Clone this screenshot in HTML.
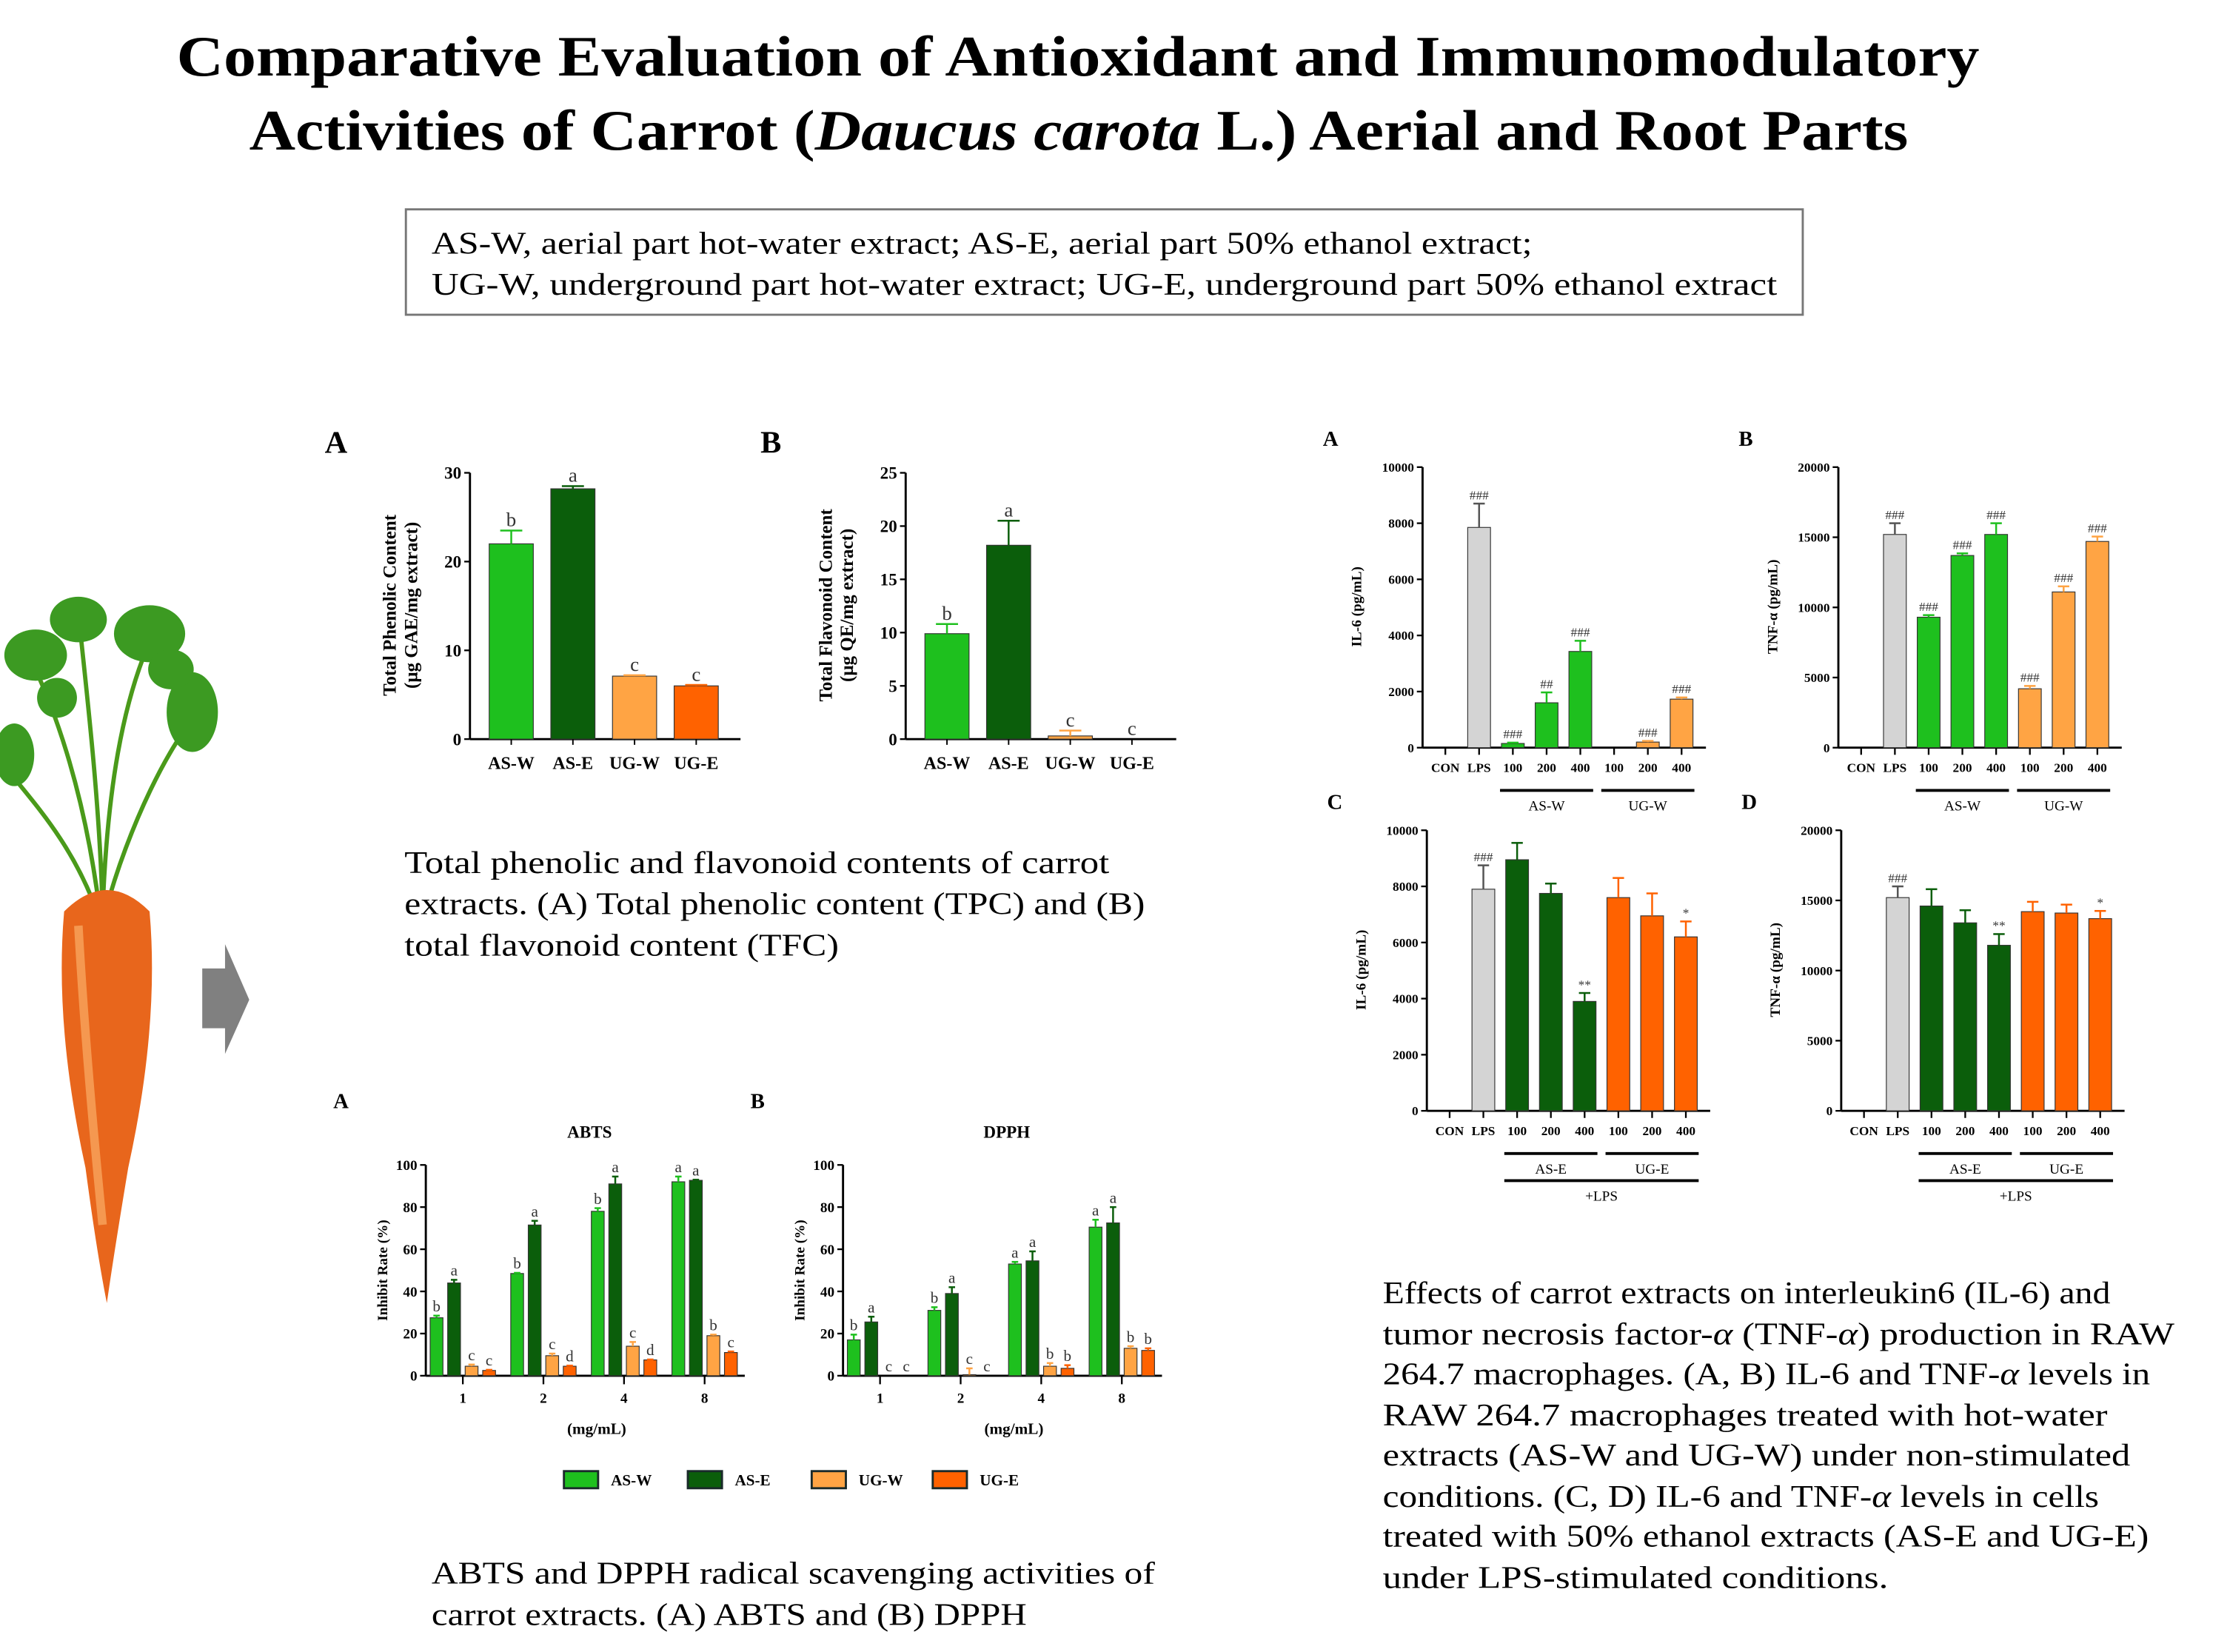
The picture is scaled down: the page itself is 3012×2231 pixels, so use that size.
<!DOCTYPE html>
<html><head><meta charset="utf-8">
<style>
html,body{margin:0;padding:0;background:#fff;}
svg{display:block;}
text{font-family:"Liberation Serif",serif;}
</style></head>
<body>
<svg id="s" width="3012" height="2231" viewBox="0 0 1566 1160" xmlns="http://www.w3.org/2000/svg">
<text x="124" y="53" font-size="40" font-weight="bold" textLength="1266" lengthAdjust="spacingAndGlyphs">Comparative Evaluation of Antioxidant and Immunomodulatory</text>
<text x="175" y="105" font-size="40" font-weight="bold" textLength="1165" lengthAdjust="spacingAndGlyphs">Activities of Carrot (<tspan font-style="italic">Daucus carota</tspan> L.) Aerial and Root Parts</text>
<rect x="285" y="147" width="981" height="74" fill="none" stroke="#777" stroke-width="1.5"/>
<text x="303" y="178" font-size="22" textLength="773" lengthAdjust="spacingAndGlyphs">AS-W, aerial part hot-water extract; AS-E, aerial part 50% ethanol extract;</text>
<text x="303" y="207" font-size="22" textLength="945" lengthAdjust="spacingAndGlyphs">UG-W, underground part hot-water extract; UG-E, underground part 50% ethanol extract</text>

<g>
  <g stroke="#4a9a1a" stroke-width="3" fill="none">
    <path d="M70 640 C60 560 40 500 20 460"/><path d="M72 640 C75 560 85 490 110 440"/>
    <path d="M74 640 C90 580 120 520 140 500"/><path d="M68 640 C50 590 20 560 5 540"/>
    <path d="M72 640 C70 560 60 480 55 430"/>
  </g>
  <g fill="#3c9a22">
    <ellipse cx="25" cy="460" rx="22" ry="18"/><ellipse cx="55" cy="435" rx="20" ry="16"/>
    <ellipse cx="105" cy="445" rx="25" ry="20"/><ellipse cx="135" cy="500" rx="18" ry="28"/>
    <ellipse cx="10" cy="530" rx="14" ry="22"/><ellipse cx="120" cy="470" rx="16" ry="14"/>
    <ellipse cx="40" cy="490" rx="14" ry="14"/>
  </g>
  <path d="M45 640 Q75 610 105 640 Q112 720 90 820 Q80 880 75 915 Q68 880 60 820 Q38 720 45 640 Z" fill="#e8661c"/>
  <path d="M55 650 Q60 740 72 860" stroke="#f59850" stroke-width="6" fill="none"/>
</g>
<polygon points="142,680 158,680 158,663 175,702 158,740 158,722 142,722" fill="#808080"/>

<text x="284" y="613" font-size="22" textLength="495" lengthAdjust="spacingAndGlyphs">Total phenolic and flavonoid contents of carrot</text>
<text x="284" y="642" font-size="22" textLength="520" lengthAdjust="spacingAndGlyphs">extracts. (A) Total phenolic content (TPC) and (B)</text>
<text x="284" y="671" font-size="22" textLength="305" lengthAdjust="spacingAndGlyphs">total flavonoid content (TFC)</text>

<text x="303" y="1112" font-size="22" textLength="508" lengthAdjust="spacingAndGlyphs">ABTS and DPPH radical scavenging activities of</text>
<text x="303" y="1141" font-size="22" textLength="418" lengthAdjust="spacingAndGlyphs">carrot extracts. (A) ABTS and (B) DPPH</text>

<g font-size="22">
<text x="971" y="915" textLength="511" lengthAdjust="spacingAndGlyphs">Effects of carrot extracts on interleukin6 (IL-6) and</text>
<text x="971" y="944" textLength="556" lengthAdjust="spacingAndGlyphs">tumor necrosis factor-<tspan font-style="italic">α</tspan> (TNF-<tspan font-style="italic">α</tspan>) production in RAW</text>
<text x="971" y="972" textLength="539" lengthAdjust="spacingAndGlyphs">264.7 macrophages. (A, B) IL-6 and TNF-<tspan font-style="italic">α</tspan> levels in</text>
<text x="971" y="1001" textLength="509" lengthAdjust="spacingAndGlyphs">RAW 264.7 macrophages treated with hot-water</text>
<text x="971" y="1029" textLength="525" lengthAdjust="spacingAndGlyphs">extracts (AS-W and UG-W) under non-stimulated</text>
<text x="971" y="1058" textLength="503" lengthAdjust="spacingAndGlyphs">conditions. (C, D) IL-6 and TNF-<tspan font-style="italic">α</tspan> levels in cells</text>
<text x="971" y="1086" textLength="538" lengthAdjust="spacingAndGlyphs">treated with 50% ethanol extracts (AS-E and UG-E)</text>
<text x="971" y="1115" textLength="355" lengthAdjust="spacingAndGlyphs">under LPS-stimulated conditions.</text>
</g>
<g id="charts"></g>
</svg>
<script>
// ---- data ----
const extractCats = ["AS-W","AS-E","UG-W","UG-E"];
const tpcValues = [22, 28.2, 7.1, 6.0];
const tpcErrors = [1.5, 0.3, 0.1, 0.1];
const tpcLetters = ["b","a","c","c"];
const tfcValues = [9.9, 18.2, 0.3, 0];
const tfcErrors = [0.9, 2.3, 0.5, 0];
const tfcLetters = ["b","a","c","c"];

const doseCats = ["1","2","4","8"];
const abtsASW = [27.5, 48.5, 78, 92];
const abtsASE = [44, 71.5, 91, 92.7];
const abtsUGW = [4.5, 9.5, 14, 19];
const abtsUGE = [2.5, 4.5, 7.5, 11];
const abtsErr = [[1,0.3,1.5,2.5],[1.5,2,3.5,0.3],[0.8,1,2,0.5],[0.3,0.3,0.2,0.5]];
const abtsLet = [["b","b","b","a"],["a","a","a","a"],["c","c","c","b"],["c","d","d","c"]];
const dpphASW = [17, 31, 53, 70.5];
const dpphASE = [25.5, 39, 54.5, 72.5];
const dpphUGW = [0, 0.5, 4.5, 13];
const dpphUGE = [0, 0, 3.5, 12];
const dpphErr = [[2.5,1.5,1,3.5],[2.5,3,4.5,7.5],[0,3,1.5,1],[0,0,1.5,1]];
const dpphLet = [["b","b","a","a"],["a","a","a","a"],["c","c","b","b"],["c","c","b","b"]];

const cytoCats = ["CON","LPS","100","200","400","100","200","400"];
const il6A = [0, 7850, 150, 1600, 3430, 0, 200, 1730];
const il6AErr = [0, 850, 30, 370, 380, 0, 40, 60];
const il6ALab = ["","###","###","##","###","","###","###"];
const tnfB = [0, 15200, 9300, 13700, 15200, 4200, 11100, 14700];
const tnfBErr = [0, 800, 150, 150, 800, 200, 400, 350];
const tnfBLab = ["","###","###","###","###","###","###","###"];
const il6C = [0, 7900, 8950, 7750, 3900, 7600, 6950, 6200];
const il6CErr = [0, 850, 600, 350, 300, 700, 800, 550];
const il6CLab = ["","###","","","**","","","*"];
const tnfD = [0, 15200, 14600, 13400, 11800, 14200, 14100, 13700];
const tnfDErr = [0, 800, 1200, 900, 800, 700, 600, 550];
const tnfDLab = ["","###","","","**","","","*"];

const C_ASW="#1ec01e", C_ASE="#0b5e0b", C_UGW="#ffa444", C_UGE="#ff6200", C_LPS="#d4d4d4";
const NS="http://www.w3.org/2000/svg";
const root=document.getElementById('charts');
function el(tag,attrs,parent,txt){const e=document.createElementNS(NS,tag);for(const k in attrs)e.setAttribute(k,attrs[k]);if(txt!==undefined)e.textContent=txt;(parent||root).appendChild(e);return e;}

function axes(g,o){
  const ys=v=>o.yBot-(v/o.max)*(o.yBot-o.yTop);
  el('line',{x1:o.x0,y1:o.yTop,x2:o.x0,y2:o.yBot,stroke:'#000','stroke-width':1.5},g);
  el('line',{x1:o.x0,y1:o.yBot,x2:o.x1,y2:o.yBot,stroke:'#000','stroke-width':1.5},g);
  o.ticks.forEach(t=>{
    el('line',{x1:o.x0-4,y1:ys(t),x2:o.x0,y2:ys(t),stroke:'#000','stroke-width':1.2},g);
    const tx=el('text',{x:o.x0-6,y:ys(t)+o.fs*0.35,'text-anchor':'end','font-size':o.fs,'font-weight':'bold'},g,String(t));
    
    
  });
  return ys;
}
function bar(g,cx,w,v,err,ys,fill,lab,labFs){
  const r=el('rect',{x:cx-w/2,y:ys(v),width:w,height:Math.max(0,ys(0)-ys(v)),fill:fill,stroke:'#333','stroke-width':0.6},g);
  
  
  let top=ys(v);
  if(err>0){
    const ye=ys(v+err);
    el('line',{x1:cx,y1:ys(v),x2:cx,y2:ye,stroke:fill==C_LPS?'#555':fill,'stroke-width':1.3},g);
    el('line',{x1:cx-w/4,y1:ye,x2:cx+w/4,y2:ye,stroke:fill==C_LPS?'#555':fill,'stroke-width':1.3},g);
    top=ye;
  }
  if(lab){
    const t=el('text',{x:cx,y:top-3,'text-anchor':'middle','font-size':labFs,fill:'#333'},g,lab);
    
    
  }
}

function contentChart(name,x0,letter,max,ticks,vals,errs,lets,t1,t2){
  const g=el('g',{});
  
  
  el('text',{x:x0-102,y:318,'font-size':22,'font-weight':'bold'},g,letter);
  const ys=axes(g,{x0:x0,x1:x0+190,yTop:332,yBot:519,max:max,ticks:ticks,fs:12});
  const cols=[C_ASW,C_ASE,C_UGW,C_UGE];
  vals.forEach((v,i)=>{
    const cx=x0+29+i*43.3;
    bar(g,cx,31,v,errs[i],ys,cols[i],lets[i],14);
    el('line',{x1:cx,y1:519,x2:cx,y2:523,stroke:'#000'},g);
    el('text',{x:cx,y:540,'text-anchor':'middle','font-size':12.5,'font-weight':'bold'},g,extractCats[i]);
  });
  el('text',{transform:`translate(${x0-52},425) rotate(-90)`,'text-anchor':'middle','font-size':13,'font-weight':'bold'},g,t1);
  el('text',{transform:`translate(${x0-37},425) rotate(-90)`,'text-anchor':'middle','font-size':13,'font-weight':'bold'},g,t2);
}
contentChart('tpc-chart',330,'A',30,[0,10,20,30],tpcValues,tpcErrors,tpcLetters,'Total Phenolic Content','(μg GAE/mg extract)');
contentChart('tfc-chart',636,'B',25,[0,5,10,15,20,25],tfcValues,tfcErrors,tfcLetters,'Total Flavonoid Content','(μg QE/mg extract)');

function scavChart(name,x0,letter,title,series,errs,lets){
  const g=el('g',{});
  
  
  el('text',{x:x0-65,y:778,'font-size':15,'font-weight':'bold'},g,letter);
  el('text',{x:x0+115,y:799,'text-anchor':'middle','font-size':12,'font-weight':'bold'},g,title);
  const ys=axes(g,{x0:x0,x1:x0+224,yTop:818,yBot:966,max:100,ticks:[0,20,40,60,80,100],fs:10});
  const cols=[C_ASW,C_ASE,C_UGW,C_UGE];
  doseCats.forEach((c,i)=>{
    const gc=x0+26+i*56.6;
    el('line',{x1:gc,y1:966,x2:gc,y2:972,stroke:'#000','stroke-width':1.2},g);
    el('text',{x:gc,y:985,'text-anchor':'middle','font-size':10,'font-weight':'bold'},g,c);
    series.forEach((s,j)=>{
      bar(g,gc+(j-1.5)*12.3,9,s[i],errs[j][i],ys,cols[j],lets[j][i],11);
    });
  });
  el('text',{x:x0+120,y:1007,'text-anchor':'middle','font-size':11,'font-weight':'bold'},g,'(mg/mL)');
  el('text',{transform:`translate(${x0-27},892) rotate(-90)`,'text-anchor':'middle','font-size':10,'font-weight':'bold'},g,'Inhibit Rate (%)');
}
scavChart('abts-chart',299,'A','ABTS',[abtsASW,abtsASE,abtsUGW,abtsUGE],abtsErr,abtsLet);
scavChart('dpph-chart',592,'B','DPPH',[dpphASW,dpphASE,dpphUGW,dpphUGE],dpphErr,dpphLet);
[['AS-W',C_ASW,396],['AS-E',C_ASE,483],['UG-W',C_UGW,570],['UG-E',C_UGE,655]].forEach(l=>{
  const g=el('g',{});
  
  
  el('rect',{x:l[2],y:1033,width:24,height:12,fill:l[1],stroke:'#1a2a2a','stroke-width':1.5},g);
  el('text',{x:l[2]+33,y:1043,'font-size':11,'font-weight':'bold'},g,l[0]);
});

function cytoChart(name,x0,yTop,letter,max,ticks,vals,errs,labs,cols,ylab,grp,lps){
  const yBot=yTop+197;
  const g=el('g',{});
  
  
  el('text',{x:x0-70,y:yTop-15,'font-size':15,'font-weight':'bold'},g,letter);
  const ys=axes(g,{x0:x0,x1:x0+199,yTop:yTop,yBot:yBot,max:max,ticks:ticks,fs:9});
  vals.forEach((v,i)=>{
    const cx=x0+16+i*23.7;
    el('line',{x1:cx,y1:yBot,x2:cx,y2:yBot+5,stroke:'#000','stroke-width':1.2},g);
    bar(g,cx,16,v,errs[i],ys,cols[i],labs[i],9);
    el('text',{x:cx,y:yBot+17,'text-anchor':'middle','font-size':9,'font-weight':'bold'},g,cytoCats[i]);
  });
  [[2,4,grp[0]],[5,7,grp[1]]].forEach(p=>{
    const a=x0+16+p[0]*23.7-9,b=x0+16+p[1]*23.7+9;
    el('line',{x1:a,y1:yBot+30,x2:b,y2:yBot+30,stroke:'#000','stroke-width':2},g);
    el('text',{x:(a+b)/2,y:yBot+44,'text-anchor':'middle','font-size':10},g,p[2]);
  });
  if(lps){
    const a=x0+16+2*23.7-9,b=x0+16+7*23.7+9;
    el('line',{x1:a,y1:yBot+49,x2:b,y2:yBot+49,stroke:'#000','stroke-width':2},g);
    el('text',{x:(a+b)/2,y:yBot+63,'text-anchor':'middle','font-size':10},g,'+LPS');
  }
  el('text',{transform:`translate(${x0-43},${yTop+98}) rotate(-90)`,'text-anchor':'middle','font-size':10,'font-weight':'bold'},g,ylab);
}
const colW=[C_LPS,C_LPS,C_ASW,C_ASW,C_ASW,C_UGW,C_UGW,C_UGW];
const colE=[C_LPS,C_LPS,C_ASE,C_ASE,C_ASE,C_UGE,C_UGE,C_UGE];
cytoChart('il6-chart-a',999,328,'A',10000,[0,2000,4000,6000,8000,10000],il6A,il6AErr,il6ALab,colW,'IL-6 (pg/mL)',['AS-W','UG-W'],false);
cytoChart('tnf-chart-b',1291,328,'B',20000,[0,5000,10000,15000,20000],tnfB,tnfBErr,tnfBLab,colW,'TNF-α (pg/mL)',['AS-W','UG-W'],false);
cytoChart('il6-chart-c',1002,583,'C',10000,[0,2000,4000,6000,8000,10000],il6C,il6CErr,il6CLab,colE,'IL-6 (pg/mL)',['AS-E','UG-E'],true);
cytoChart('tnf-chart-d',1293,583,'D',20000,[0,5000,10000,15000,20000],tnfD,tnfDErr,tnfDLab,colE,'TNF-α (pg/mL)',['AS-E','UG-E'],true);
</script>
</body></html>
